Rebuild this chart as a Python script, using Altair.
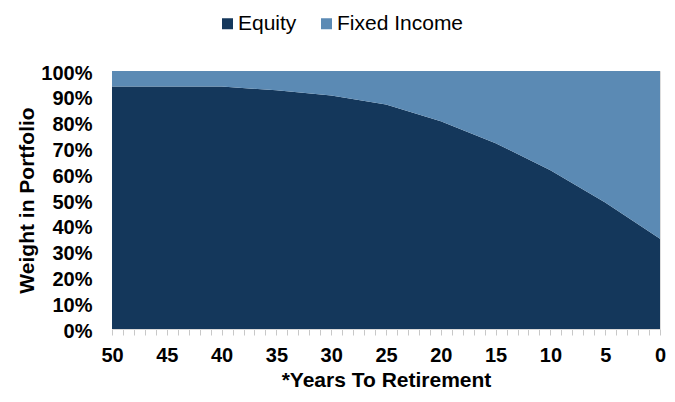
import altair as alt
import pandas as pd

years = [50, 45, 40, 35, 30, 25, 20, 15, 10, 5, 0]
equity = [94, 94, 94, 92.5, 90.5, 87, 80.5, 72, 61.5, 49, 35]
fixed_income = [6, 6, 6, 7.5, 9.5, 13, 19.5, 28, 38.5, 51, 65]
series = ["Equity", "Fixed Income"]
colors = ["#14375B", "#5B8AB4"]
y_ticks = list(range(0, 101, 10))
x_ticks = list(range(0, 51))

rows = []
for i, yr in enumerate(years):
    rows.append({"Year": yr, "Series": "Equity", "Weight": equity[i], "Order": 0})
    rows.append({"Year": yr, "Series": "Fixed Income", "Weight": fixed_income[i], "Order": 1})
df = pd.DataFrame(rows)

FONT = "Liberation Sans"
W = 548
H = 258

chart = alt.Chart(df).mark_area(interpolate="linear").encode(
    x=alt.X(
        "Year:Q",
        scale=alt.Scale(domain=[0, 50], reverse=True, nice=False, zero=False),
        axis=alt.Axis(
            values=x_ticks,
            labelExpr="datum.value % 5 == 0 ? datum.label : ''",
            labelOverlap=False,
            labelFlush=False,
            labelFontSize=20,
            labelFontWeight="bold",
            labelColor="#000000",
            labelPadding=10,
            tickSize=6,
            tickColor="#c8c8c8",
            domainColor="#d9d9d9",
            grid=False,
            title="*Years To Retirement",
            titleFontSize=21,
            titleFontWeight="bold",
            titleColor="#000000",
            titleX=W / 2,
            titleY=57,
            titleAlign="center",
            titleBaseline="alphabetic",
        ),
    ),
    y=alt.Y(
        "Weight:Q",
        stack="zero",
        scale=alt.Scale(domain=[0, 100], nice=False),
        axis=alt.Axis(
            values=y_ticks,
            labelExpr="datum.value + '%'",
            labelFontSize=20,
            labelFontWeight="bold",
            labelColor="#000000",
            labelPadding=20,
            labelOffset=2,
            ticks=False,
            domain=False,
            grid=False,
            title="Weight in Portfolio",
            titleFontSize=21,
            titleFontWeight="bold",
            titleColor="#000000",
            titleAngle=270,
            titleX=-79,
            titleY=H / 2,
            titleAlign="center",
            titleBaseline="alphabetic",
        ),
    ),
    color=alt.Color(
        "Series:N",
        scale=alt.Scale(domain=series, range=colors),
        legend=alt.Legend(
            title=None,
            orient="none",
            direction="horizontal",
            legendX=105,
            legendY=-58,
            symbolType="square",
            symbolSize=121,
            symbolStrokeWidth=0,
            labelFontSize=21,
            labelColor="#000000",
            labelOffset=0,
            columnPadding=19,
            padding=0,
        ),
    ),
    order=alt.Order("Order:Q"),
).properties(
    width=W,
    height=H,
    padding={"left": 104, "top": 63, "right": 7, "bottom": 61},
    autosize=alt.AutoSizeParams(type="none"),
).configure_view(stroke=None).configure(font=FONT).configure_axis(
    labelFont=FONT, titleFont=FONT
).configure_legend(labelFont=FONT)

chart.save("out.html", embed_options={"renderer": "svg", "actions": False})
